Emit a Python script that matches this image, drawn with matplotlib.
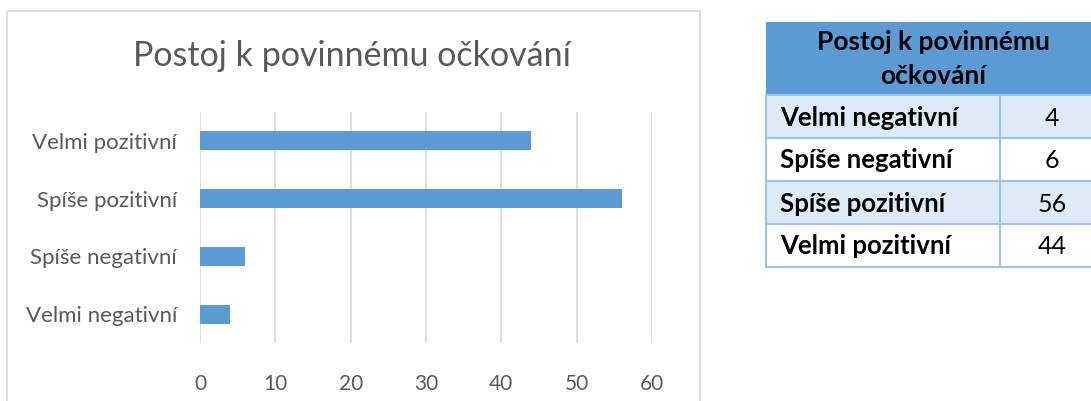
import matplotlib.pyplot as plt
from matplotlib.patches import Rectangle

# data
categories = ["Velmi negativní", "Spíše negativní", "Spíše pozitivní", "Velmi pozitivní"]
counts = [4, 6, 56, 44]
title = "Postoj k povinnému očkování"
table_header = ["Postoj k povinnému", "očkování"]
x_ticks = [0, 10, 20, 30, 40, 50, 60]

W, H = 1091, 401
BLUE = "#5B9BD5"
GRID = "#D9D9D9"
TEXT = "#595959"

plt.rcParams['font.family'] = ['Lato', 'DejaVu Sans']

fig = plt.figure(figsize=(W / 100, H / 100), dpi=100)

# background layer in pixel coords for the frame and the table
bg = fig.add_axes([0, 0, 1, 1])
bg.set_xlim(0, W)
bg.set_ylim(H, 0)
bg.axis("off")

# chart frame
bg.add_patch(Rectangle((7, 11), 693, 400, fill=False, edgecolor=GRID, lw=1.2))
bg.text(352, 56, title, ha="center", va="center", fontsize=24.5, color=TEXT)

# table
tx0, tx1, tdiv = 766, 1095, 1000
header_top, header_bot = 22, 95
row_h = 43
border = "#9DC3E6"
bg.add_patch(Rectangle((tx0, header_top), tx1 - tx0, header_bot - header_top,
                       facecolor=BLUE, edgecolor="none"))
bg.text(933, 50, table_header[0], ha="center", va="baseline",
        fontsize=19, fontweight="bold", color="black")
bg.text(933, 84, table_header[1], ha="center", va="baseline",
        fontsize=19, fontweight="bold", color="black")
for i, (cat, val) in enumerate(zip(categories, counts)):
    y0 = header_bot + i * row_h
    fc = "#DDEBF7" if i % 2 == 0 else "white"
    bg.add_patch(Rectangle((tx0, y0), tx1 - tx0, row_h, facecolor=fc,
                           edgecolor=border, lw=1.5))
    bg.plot([tdiv, tdiv], [y0, y0 + row_h], color=border, lw=1.5)
    bg.text(tx0 + 14, y0 + row_h / 2 + 9, cat, ha="left", va="baseline",
            fontsize=18.5, fontweight="bold", color="black")
    bg.text(1052, y0 + row_h / 2 + 9, str(val), ha="center",
            va="baseline", fontsize=18, color="black")

# bar chart
ax = fig.add_axes([200 / W, 1 - 343 / H, 452 / W, (343 - 112) / H])
ax.barh(range(len(categories)), counts, height=0.33, color=BLUE, zorder=3)
ax.set_xlim(0, 60)
ax.set_ylim(-0.5, len(categories) - 0.5)
ax.set_xticks(x_ticks)
ax.set_yticks(range(len(categories)))
ax.set_yticklabels(categories)
ax.grid(axis="x", color=GRID, lw=1.2, zorder=0)
for s in ax.spines.values():
    s.set_visible(False)
ax.tick_params(length=0, colors=TEXT)
ax.tick_params(axis="y", pad=16.5, labelsize=16)
ax.tick_params(axis="x", pad=22, labelsize=15)
ax.patch.set_alpha(0)

fig.savefig("out.png", dpi=100)
